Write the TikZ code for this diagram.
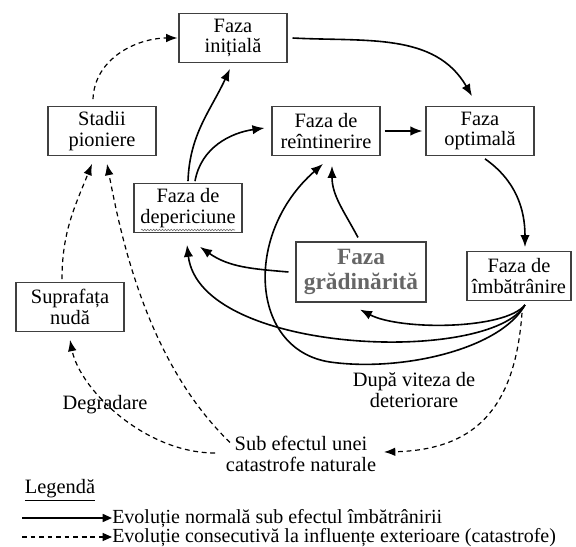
\documentclass[tikz,border=0pt]{standalone}
\usepackage{fontspec}
\setmainfont{Liberation Serif}
\usetikzlibrary{arrows.meta,calc,decorations.pathmorphing}

\begin{document}
\begin{tikzpicture}[x=0.75pt,y=-0.75pt,
    faza/.style={draw=black!75,line width=0.8pt,minimum width=81pt,minimum height=36.5pt,
        align=center,inner sep=2pt,font=\fontsize{15.3}{15.5}\selectfont},
    eticheta/.style={align=center,inner sep=2pt,font=\fontsize{15.3}{15.5}\selectfont},
    legtext/.style={anchor=base west,inner sep=0pt,text height=10pt,text depth=3pt,font=\fontsize{15}{15}\selectfont},
    sageata/.style={line width=1.2pt,-{Latex[length=9pt,width=7pt]}},
    punctat/.style={line width=0.9pt,dash pattern=on 3.6pt off 2.8pt,-{Latex[length=8.5pt,width=6.5pt]}}]
    \useasboundingbox (0,0) rectangle (576,547);
    \node[faza] (init) at (233,38) {Faza\\inițială};
    \node[faza] (pion) at (102,131) {Stadii\\pioniere};
    \node[faza] (reint) at (326,131) {Faza de\\reîntinerire};
    \node[faza] (optim) at (480,131) {Faza\\optimală};
    \node[faza] (deper) at (188,208) {Faza de\\depericiune};
    \node[faza,minimum width=97.5pt,minimum height=45pt,text=black!60,
        font=\fontsize{17.5}{19}\selectfont\bfseries] (grad) at (361,272) {Faza\\grădinărită};
    \node[faza,minimum width=78pt] (imbat) at (519,276) {Faza de\\îmbătrânire};
    \node[faza] (supra) at (70,307) {Suprafața\\nudă};
    \node[eticheta] (dupa) at (414,390) {După viteza de\\deteriorare};
    \node[eticheta] (degr) at (105,405) {Degradare};
    \node[eticheta] (sub) at (301,454) {Sub efectul unei\\catastrofe naturale};
    \draw[black!60,line width=0.4pt,decorate,decoration={snake,amplitude=0.6pt,segment length=2.2pt}]
        ($(deper.center)+(-47,22)$) -- ($(deper.center)+(47,22)$);
    \coordinate (imb) at ($(imbat.south)+(6,4)$);
    \coordinate (jos) at (330,362);
    \draw[punctat] ($(pion.north)+(-9,-7)$) to[out=88,in=180] ($(init.west)+(-1,0)$);
    \draw[sageata] ($(init.east)+(5,0)$) to[out=-3,in=120] ($(optim.north)+(-8,-10)$);
    \draw[sageata] ($(reint.east)+(4,0)$) -- ($(optim.west)+(-3,0)$);
    \draw[sageata] ($(optim.south)+(5,3)$) to[out=-35,in=90] ($(imbat.north)+(6,-4)$);
    \draw[sageata] ($(deper.north)+(0,-2)$) to[out=88,in=-115] ($(init.south)+(-3,6)$);
    \draw[sageata] ($(deper.north)+(7,-2)$) to[out=80,in=188] ($(reint.west)+(-7,-3)$);
    \draw[sageata] ($(grad.north)+(-3,-4)$) to[out=118,in=-90] ($(reint.south)+(6,10)$);
    \draw[sageata] ($(grad.west)+(-7,0)$) to[out=175,in=-35] ($(deper.south)+(12,14)$);
    \draw[sageata] (imb) .. controls +(-20,25) and +(40,21) .. ($(grad.south)+(-1,7)$);
    \draw[sageata] (imb) .. controls +(-35,60) and +(13,110) .. ($(deper.south)+(-1,12)$);
    \draw[sageata] (imb) .. controls +(-25,45) and +(70,10) .. (jos)
        .. controls +(-80,-12) and +(-80,70) .. ($(reint.south)+(-3,8)$);
    \draw[punctat] ($(imb)+(-3,8)$) .. controls +(-7,97) and +(90,-2) .. ($(sub.east)+(5,-2)$);
    \draw[punctat] ($(sub.north west)+(7,9)$) .. controls +(-85,-82) and +(13,67) .. ($(pion.south)+(5,8)$);
    \draw[punctat] ($(sub.west)+(-8,-1)$) .. controls +(-70,0) and +(10,50) .. ($(supra.south)+(0,8)$);
    \draw[punctat] ($(supra.north)+(-8,-3)$) to[out=90,in=-112] ($(pion.south)+(-10,8)$);
    \node[eticheta,anchor=west] (leg) at (22,490) {\underline{Legendă}};
    \coordinate (l1a) at (22,518);
    \coordinate (l2a) at (22,537);
    \node[legtext] (l1) at (112,523) {Evoluție normală sub efectul îmbătrânirii};
    \node[legtext] (l2) at (112,542) {Evoluție consecutivă la influențe exterioare (catastrofe)};
    \draw[line width=1.2pt,-{Triangle[length=7pt,width=6pt]}] (l1a) -- (l1.west |- l1a);
    \draw[line width=0.9pt,dash pattern=on 3.6pt off 2.8pt,-{Triangle[length=7pt,width=6pt]}] (l2a) -- (l2.west |- l2a);
\end{tikzpicture}
\end{document}
